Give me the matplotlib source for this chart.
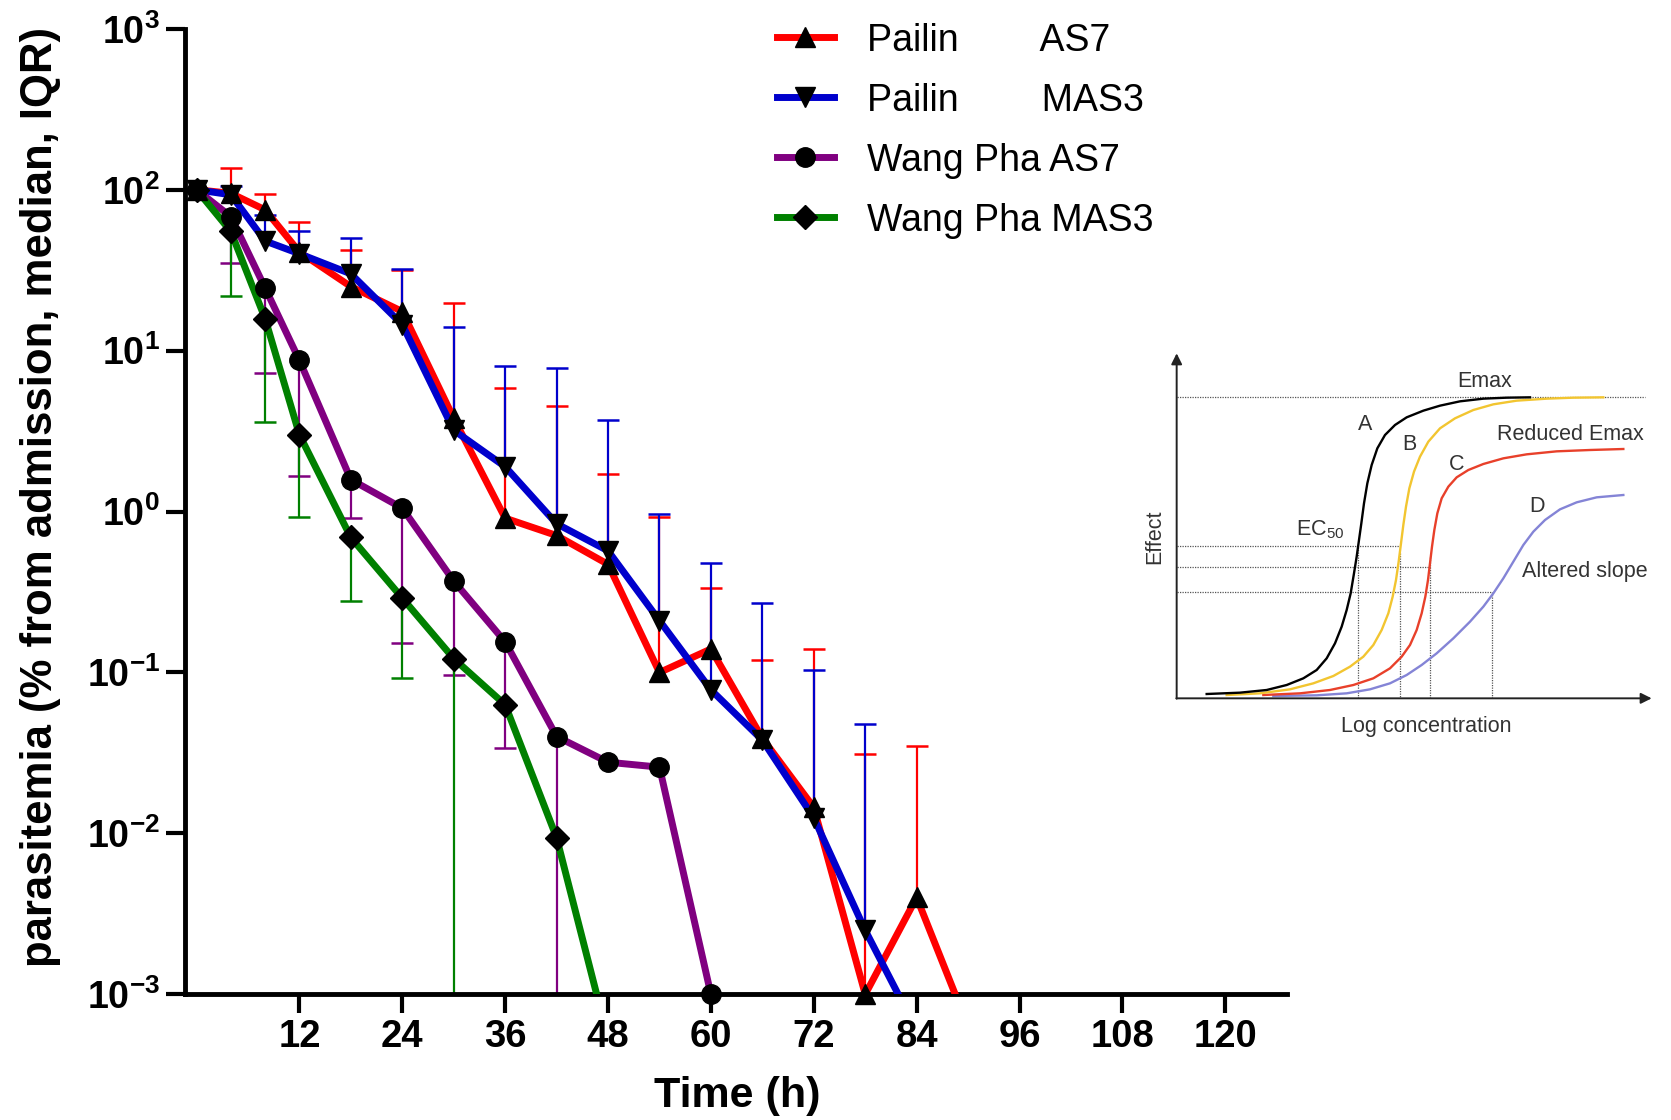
#!/usr/bin/env python3
"""
Parasite clearance curves (Pailin vs Wang Pha, AS7 vs MAS3) on a log scale,
with the Emax / EC50 concept sketch pasted at the right.
"""

import numpy as np
import matplotlib
matplotlib.use("Agg")
import matplotlib.pyplot as plt
from matplotlib.lines import Line2D
from matplotlib import font_manager

# ---- data: median parasitemia (% of admission) and IQR bound ----
times = [0, 4, 8, 12, 18, 24, 30, 36, 42, 48, 54, 60, 66, 72, 78, 84, 90]

pailin_as7 = [100, 95, 75, 41, 25, 17.5, 3.8, 0.91, 0.71, 0.47, 0.10, 0.14,
              0.039, 0.0145, 0.001, 0.004, 0.00063]
pailin_as7_upper = [np.nan, 136, 94, 63, 42, 31.5, 19.8, 5.9, 4.5, 1.7, 0.92,
                    0.335, 0.119, 0.14, 0.031, 0.035, np.nan]

pailin_mas3 = [100, 93, 48, 40, 30, 14.5, 3.2, 1.9, 0.84, 0.57, 0.21, 0.078,
               0.038, 0.0125, 0.0025, 0.0006, np.nan]
pailin_mas3_upper = [np.nan, 105, 70, 55, 50, 32, 14, 8.0, 7.8, 3.7, 0.97,
                     0.48, 0.27, 0.104, 0.048, np.nan, np.nan]

wangpha_as7 = [100, 68, 24.5, 8.7, 1.58, 1.05, 0.37, 0.155, 0.040, 0.0277,
               0.0258, 0.001]
wangpha_as7_lower = [np.nan, 35, 7.3, 1.67, 0.91, 0.153, 0.096, 0.034, 0.001,
                     np.nan, np.nan, np.nan]

wangpha_mas3 = [100, 55, 15.8, 3.0, 0.69, 0.29, 0.122, 0.063, 0.0094, 0.00053]
wangpha_mas3_lower = [np.nan, 21.7, 3.6, 0.92, 0.28, 0.093, 0.001, np.nan,
                      np.nan, np.nan]

series_labels = ["Pailin        AS7", "Pailin        MAS3",
                 "Wang Pha AS7", "Wang Pha MAS3"]

x_ticks = [12, 24, 36, 48, 60, 72, 84, 96, 108, 120]
y_ticks = [1e-3, 1e-2, 1e-1, 1e0, 1e1, 1e2, 1e3]
y_tick_labels = [r"$\mathbf{10^{-3}}$", r"$\mathbf{10^{-2}}$", r"$\mathbf{10^{-1}}$",
                 r"$\mathbf{10^{0}}$", r"$\mathbf{10^{1}}$", r"$\mathbf{10^{2}}$",
                 r"$\mathbf{10^{3}}$"]

# ---- inset sketch: curve points (inset pixel units) ----
curve_a_x = [200, 300, 380, 440, 490, 530, 560, 585, 605, 620, 632, 642, 650,
             657, 664, 672, 682, 695, 712, 735, 765, 800, 850, 900, 960, 1030,
             1100, 1170]
curve_a_y = [1062, 1058, 1050, 1035, 1015, 990, 955, 910, 860, 810, 760, 700,
             650, 600, 550, 490, 430, 375, 325, 285, 255, 232, 212, 197, 184,
             176, 173, 172]
curve_b_x = [260, 360, 450, 520, 580, 630, 670, 700, 725, 745, 758, 768, 776,
             783, 790, 798, 808, 822, 840, 865, 900, 945, 1000, 1060, 1130,
             1220, 1300, 1390]
curve_b_y = [1065, 1060, 1048, 1030, 1008, 980, 950, 915, 870, 820, 770, 720,
             665, 610, 555, 500, 445, 395, 350, 305, 265, 235, 210, 193, 182,
             176, 173, 172]
curve_c_x = [370, 480, 570, 640, 700, 750, 785, 810, 830, 845, 856, 864, 870,
             876, 883, 892, 905, 925, 950, 985, 1030, 1090, 1160, 1250, 1350,
             1450]
curve_c_y = [1065, 1060, 1050, 1035, 1015, 985, 950, 915, 870, 820, 770, 720,
             670, 620, 570, 520, 475, 440, 412, 390, 372, 355, 343, 334, 330,
             327]
curve_d_x = [400, 530, 620, 690, 750, 800, 845, 890, 940, 990, 1030, 1060,
             1090, 1120, 1150, 1180, 1215, 1260, 1310, 1370, 1450]
curve_d_y = [1068, 1066, 1060, 1048, 1030, 1005, 975, 940, 895, 845, 800, 760,
             715, 665, 615, 575, 540, 508, 487, 472, 465]

emax_level = 172
ec50_levels = [618, 680, 755]
ec50_ends = [780, 870, 1055]
ec50_drop_x = [655, 780, 870, 1055]
ec50_drop_top = [620, 640, 650, 755]

# ---- fonts ----
available = {f.name for f in font_manager.fontManager.ttflist}
NARROW = "Liberation Sans Narrow" if "Liberation Sans Narrow" in available else None
plt.rcParams["font.family"] = ["Liberation Sans", "DejaVu Sans"]
plt.rcParams["mathtext.fontset"] = "custom"
plt.rcParams["mathtext.rm"] = "Liberation Sans"
plt.rcParams["mathtext.bf"] = "Liberation Sans:bold"

# the narrow face (if present) allows a slightly larger size at the same width
narrow_family = NARROW or "Liberation Sans"
k = 1.15 if NARROW else 1.0

fig = plt.figure(figsize=(16.71, 11.2), dpi=100)
ax = fig.add_axes([0.1107, 0.1122, 0.6595, 0.8621])
ax.set_yscale("log")

styles = [
    ("#ff0000", "^", 15, pailin_as7, pailin_as7_upper),
    ("#0000cc", "v", 15, pailin_mas3, pailin_mas3_upper),
    ("#800080", "o", 14, wangpha_as7, wangpha_as7_lower),
    ("#008000", "D", 12, wangpha_mas3, wangpha_mas3_lower),
]

handles = []
for color, marker, ms, values, bound in styles:
    t = np.array(times[:len(values)], dtype=float)
    v = np.array(values, dtype=float)
    b = np.array(bound, dtype=float)

    # IQR bars (one side only), drawn under the lines
    ok = ~np.isnan(b)
    ax.vlines(t[ok], v[ok], b[ok], color=color, lw=1.6, zorder=2)
    ax.plot(t[ok], b[ok], ls="none", marker="_", ms=16, mew=1.8,
            color=color, clip_on=False, zorder=2)

    ax.plot(t, v, color=color, lw=5, zorder=3, solid_joinstyle="round")
    keep = v >= 1e-3
    ax.plot(t[keep], v[keep], ls="none", marker=marker, ms=ms,
            mfc="black", mec="black", clip_on=False, zorder=4)
    handles.append(Line2D([], [], color=color, lw=5, marker=marker, ms=ms,
                          mfc="black", mec="black"))

ax.set_xlim(-1.35, 127.2)
ax.set_ylim(1e-3, 1e3)

ax.set_xticks(x_ticks)
ax.set_xticklabels([str(x) for x in x_ticks], fontfamily=narrow_family,
                   fontweight="bold", fontsize=27.5 * k)
ax.set_yticks(y_ticks)
ax.set_yticklabels(y_tick_labels, fontsize=27)
ax.yaxis.set_minor_locator(matplotlib.ticker.NullLocator())
ax.xaxis.set_minor_locator(matplotlib.ticker.NullLocator())

for side in ("top", "right"):
    ax.spines[side].set_visible(False)
for side in ("left", "bottom"):
    ax.spines[side].set_linewidth(3.5)
ax.tick_params(axis="both", which="major", direction="out", length=14,
               width=3, color="black", pad=4)

fig.text(41 / 1671, 1 - 497 / 1120, "parasitemia (% from admission, median, IQR)",
         rotation=90, ha="center", va="center", fontsize=31.5, fontweight="bold")
fig.text(737 / 1671, 1 - 1096 / 1120, "Time (h)", ha="center", va="center",
         fontsize=31 * k, fontweight="bold", fontfamily=narrow_family)

ax.legend(handles, series_labels, loc="upper left", bbox_to_anchor=(0.537, 1.0065),
          frameon=False, numpoints=1, handlelength=1.52, handletextpad=0.88,
          labelspacing=0.64, borderpad=0, borderaxespad=0,
          prop={"family": narrow_family, "size": 27 * k})

# ---- inset: concentration-effect sketch ----
ins = fig.add_axes([1140 / 1671, 1 - 750 / 1120, 531 / 1671, 410 / 1120])
ins.set_xlim(0, 1593)
ins.set_ylim(1230, 0)
ins.axis("off")
ins.patch.set_alpha(0)

dot = dict(color="#555555", lw=0.9, ls=(0, (1, 1)))
ins.plot([110, 1515], [emax_level, emax_level], **dot)
for lvl, end in zip(ec50_levels, ec50_ends):
    ins.plot([110, end], [lvl, lvl], **dot)
for xd, top in zip(ec50_drop_x, ec50_drop_top):
    ins.plot([xd, xd], [top, 1075], **dot)

ins.plot(curve_d_x, curve_d_y, color="#8484d6", lw=1.7)
ins.plot(curve_c_x, curve_c_y, color="#e8402a", lw=1.7)
ins.plot(curve_b_x, curve_b_y, color="#f2c530", lw=1.7)
ins.plot(curve_a_x, curve_a_y, color="black", lw=1.7)

arrow = dict(arrowstyle="-|>", color="#222222", lw=1.4, mutation_scale=16,
             shrinkA=0, shrinkB=0)
ins.annotate("", xy=(110, 40), xytext=(110, 1076), arrowprops=arrow)
ins.annotate("", xy=(1535, 1075), xytext=(109, 1075), arrowprops=arrow)

txt = dict(color="#333333", fontsize=15.5)
ins.text(1035, 125, "Emax", ha="center", va="center", **txt)
ins.text(675, 255, "A", ha="center", va="center", **txt)
ins.text(808, 312, "B", ha="center", va="center", **txt)
ins.text(950, 372, "C", ha="center", va="center", **txt)
ins.text(1190, 500, "D", ha="center", va="center", **txt)
ins.text(1290, 285, "Reduced Emax", ha="center", va="center", **txt)
ins.text(1335, 695, "Altered slope", ha="center", va="center", **txt)
ins.text(540, 570, r"EC$_{50}$", ha="center", va="center", **txt)
ins.text(45, 590, "Effect", rotation=90, ha="center", va="center", **txt)
ins.text(860, 1160, "Log concentration", ha="center", va="center", **txt)

fig.savefig("out.png", dpi=100)
